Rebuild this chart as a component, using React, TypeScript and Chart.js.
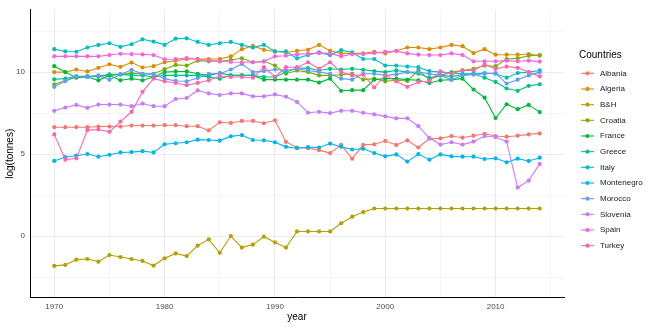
import React, { useEffect, useRef } from "react";
import { Chart, registerables } from "chart.js";

Chart.register(...registerables);

const years: number[] = Array.from({ length: 45 }, (_, i) => 1970 + i);

const countries = [
  "Albania", "Algeria", "B&H", "Croatia", "France", "Greece",
  "Italy", "Montenegro", "Morocco", "Slovenia", "Spain", "Turkey",
];

const albania = [6.64,6.64,6.64,6.64,6.68,6.68,6.68,6.74,6.74,6.74,6.76,6.76,6.70,6.70,6.44,6.94,6.90,7.02,7.02,6.88,7.06,5.74,5.40,5.36,5.24,5.06,5.56,4.72,5.56,5.60,5.80,5.56,5.84,5.40,5.94,5.96,6.10,6.00,6.12,6.24,6.10,6.06,6.12,6.20,6.26];
const algeria = [10.0,10.0,10.16,10.04,10.26,10.48,10.32,10.58,10.28,10.36,10.6,10.7,10.8,10.8,10.8,10.8,10.96,11.4,11.6,11.36,11.26,11.2,11.3,11.36,11.66,11.3,11.14,11.14,11.14,11.24,11.14,11.3,11.5,11.5,11.4,11.5,11.66,11.58,11.16,11.4,11.06,11.06,11.06,11.1,11.0];
const bh = [-1.82,-1.76,-1.44,-1.40,-1.56,-1.16,-1.28,-1.40,-1.52,-1.80,-1.36,-1.06,-1.22,-0.58,-0.20,-1.02,0.0,-0.70,-0.52,-0.04,-0.38,-0.70,0.28,0.28,0.28,0.28,0.78,1.18,1.46,1.68,1.68,1.68,1.68,1.68,1.68,1.68,1.68,1.68,1.68,1.68,1.68,1.68,1.68,1.68,1.68];
const croatia = [9.26,9.46,9.7,9.74,9.74,9.8,9.86,9.94,9.9,9.9,10.18,10.44,10.4,10.7,10.66,10.66,10.74,10.84,10.6,10.66,10.4,9.9,10.1,10.0,9.8,9.8,9.84,9.9,9.54,9.6,9.44,9.5,9.46,10.1,9.56,9.8,10.0,10.1,10.2,10.4,10.36,10.8,10.84,11.0,11.04];
const france = [10.36,10.0,9.66,9.7,9.5,9.8,9.5,9.6,9.5,9.7,10.0,10.04,10.04,9.9,9.8,9.94,9.8,9.8,9.8,9.54,9.54,9.54,9.54,9.54,9.36,9.6,8.86,8.9,8.9,9.54,9.6,9.6,9.54,9.5,9.34,9.5,9.54,9.6,8.94,8.44,7.2,8.04,7.74,8.0,7.56];
const greece = [9.56,9.6,9.74,9.74,9.74,9.86,9.86,9.8,9.8,9.7,9.8,9.8,9.8,9.8,9.7,9.6,9.8,9.8,9.8,9.7,9.7,10.0,10.24,10.24,10.1,10.2,10.16,10.2,10.14,10.06,10.0,10.1,10.0,9.9,9.66,9.8,9.74,9.84,9.9,9.66,9.4,9.0,8.86,9.16,9.26];
const italy = [11.4,11.26,11.24,11.5,11.66,11.76,11.54,11.70,12.0,11.86,11.66,12.04,12.06,11.84,11.66,11.76,11.84,11.66,11.5,11.66,11.26,11.26,10.84,11.04,11.2,11.04,11.34,11.2,10.8,10.8,10.4,10.4,10.34,10.3,10.06,10.0,9.94,9.9,9.9,9.94,9.9,9.66,9.94,10.0,10.1];
const montenegro = [4.58,4.82,4.90,5.00,4.84,4.96,5.10,5.12,5.18,5.10,5.60,5.66,5.72,5.88,5.86,5.82,6.08,6.16,5.86,5.84,5.72,5.44,5.36,5.42,5.40,5.64,5.44,5.28,5.32,5.06,4.86,4.98,4.54,5.00,4.66,4.98,4.86,4.84,4.84,4.70,4.74,4.50,4.72,4.58,4.78];
const morocco = [9.1,9.46,9.74,9.7,9.8,9.54,9.86,10.14,9.9,9.86,9.6,9.46,9.44,9.64,9.9,9.9,10.16,10.5,10.0,10.06,10.16,10.1,10.2,10.1,10.0,9.9,9.6,9.54,9.9,9.9,9.8,9.86,10.0,10.0,9.9,9.8,9.54,9.8,9.84,9.9,9.94,9.3,9.54,9.8,10.0];
const slovenia = [7.64,7.84,8.0,7.82,8.02,8.02,8.02,7.92,8.08,7.92,7.92,8.36,8.42,8.88,8.70,8.60,8.70,8.70,8.52,8.52,8.64,8.50,8.18,7.52,7.58,7.50,7.64,7.64,7.52,7.42,7.30,7.18,7.18,6.70,5.98,5.58,5.72,5.58,5.76,6.10,6.04,5.76,2.96,3.38,4.40];
const spain = [10.96,10.96,10.96,10.96,10.96,11.04,11.12,11.1,11.08,11.04,10.78,10.8,10.86,10.78,10.72,10.66,10.62,10.6,10.6,10.64,10.96,11.0,11.08,11.12,11.16,11.14,10.96,11.1,11.1,11.16,11.24,11.28,11.14,11.06,11.04,11.04,11.14,11.04,10.66,10.66,10.66,10.7,10.66,10.7,10.64];
const turkey = [6.2,4.66,4.74,6.46,6.5,6.36,6.98,7.58,8.8,9.6,9.44,9.34,9.2,9.34,9.5,9.76,9.7,9.7,9.66,10.3,9.7,10.3,10.3,10.6,10.2,10.6,10.0,9.8,9.84,9.06,9.8,9.44,9.1,9.4,9.46,10.04,9.9,10.1,10.1,10.46,10.2,10.34,10.26,10.0,9.74];

const seriesValues = [albania, algeria, bh, croatia, france, greece, italy, montenegro, morocco, slovenia, spain, turkey];

const palette = ["#F8766D", "#DE8C00", "#B79F00", "#7CAE00", "#00BA38", "#00C08B", "#00BFC4", "#00B4F0", "#619CFF", "#C77CFF", "#F564E3", "#FF64B0"];

const FONT = "'Liberation Sans', Arial, Helvetica, sans-serif";

const legendPlugin = {
  id: "ggLegend",
  afterDraw(chart: any) {
    const ctx = chart.ctx;
    ctx.save();
    ctx.fillStyle = "#000000";
    ctx.font = `10px ${FONT}`;
    ctx.textBaseline = "middle";
    ctx.textAlign = "left";
    ctx.fillText("Countries", 579, 55.5);
    chart.data.datasets.forEach((ds: any, i: number) => {
      const y = 73.3 + i * 15.67;
      ctx.strokeStyle = ds.borderColor;
      ctx.lineWidth = 1.1;
      ctx.beginPath();
      ctx.moveTo(581, y);
      ctx.lineTo(594, y);
      ctx.stroke();
      ctx.fillStyle = ds.borderColor;
      ctx.beginPath();
      ctx.arc(587.5, y, 2.1, 0, Math.PI * 2);
      ctx.fill();
      ctx.fillStyle = "#1A1A1A";
      ctx.font = `8px ${FONT}`;
      ctx.fillText(ds.label, 600, y);
    });
    ctx.restore();
  },
};

export default function App() {
  const ref = useRef<HTMLCanvasElement | null>(null);

  useEffect(() => {
    document.body.style.margin = "0";
    document.body.style.background = "#ffffff";
    Chart.defaults.font.family = FONT;
    const canvas = ref.current;
    if (!canvas) return;
    const datasets = countries.map((name, i) => ({
      label: name,
      data: years.map((yr, j) => ({ x: yr, y: seriesValues[i][j] })),
      borderColor: palette[i],
      backgroundColor: palette[i],
      pointBackgroundColor: palette[i],
      pointBorderWidth: 0,
      pointRadius: 2.1,
      borderWidth: 1.1,
      tension: 0,
      order: countries.length - i,
    }));
    const gridWidth = (ctx: any, mod: number) => {
      const v = ctx.tick ? ctx.tick.value : 0;
      return Math.abs(v % mod) < 1e-6 ? 1 : 0.5;
    };
    const chart = new Chart(canvas, {
      type: "line",
      data: { datasets },
      plugins: [legendPlugin],
      options: {
        responsive: false,
        animation: false,
        layout: { padding: { top: 5, right: 90, left: 0, bottom: 0 } },
        plugins: { legend: { display: false }, tooltip: { enabled: false } },
        scales: {
          x: {
            type: "linear",
            min: 1967.8,
            max: 2016.2,
            afterFit: (s: any) => { s.height = 29.3; },
            ticks: {
              stepSize: 5,
              includeBounds: false,
              autoSkip: false,
              maxRotation: 0,
              padding: 4,
              color: "#4D4D4D",
              font: { size: 8 },
              callback: (v: any) => (Math.abs(Number(v) % 10) < 1e-6 ? String(v) : ""),
            },
            grid: { color: "#EBEBEB", drawTicks: false, lineWidth: (c: any) => gridWidth(c, 10) },
            border: { display: true, color: "#000000", width: 1 },
            title: { display: true, text: "year", color: "#000000", font: { size: 10 }, padding: { top: 0, bottom: 4 } },
          },
          y: {
            type: "linear",
            min: -3.76,
            max: 13.8,
            afterFit: (s: any) => { s.width = 30; },
            ticks: {
              stepSize: 2.5,
              includeBounds: false,
              autoSkip: false,
              padding: 5,
              color: "#4D4D4D",
              font: { size: 8 },
              callback: (v: any) => (Math.abs(Number(v) % 5) < 1e-6 ? String(v) : ""),
            },
            grid: { color: "#EBEBEB", drawTicks: false, lineWidth: (c: any) => gridWidth(c, 5) },
            border: { display: true, color: "#000000", width: 1 },
            title: { display: true, text: "log(tonnes)", color: "#000000", font: { size: 10 }, padding: { top: 4, bottom: 0 } },
          },
        },
      },
    } as any);
    return () => chart.destroy();
  }, []);

  return (
    <div style={{ width: 654, height: 327, background: "#ffffff" }}>
      <canvas ref={ref} width={654} height={327} style={{ display: "block" }} />
    </div>
  );
}
